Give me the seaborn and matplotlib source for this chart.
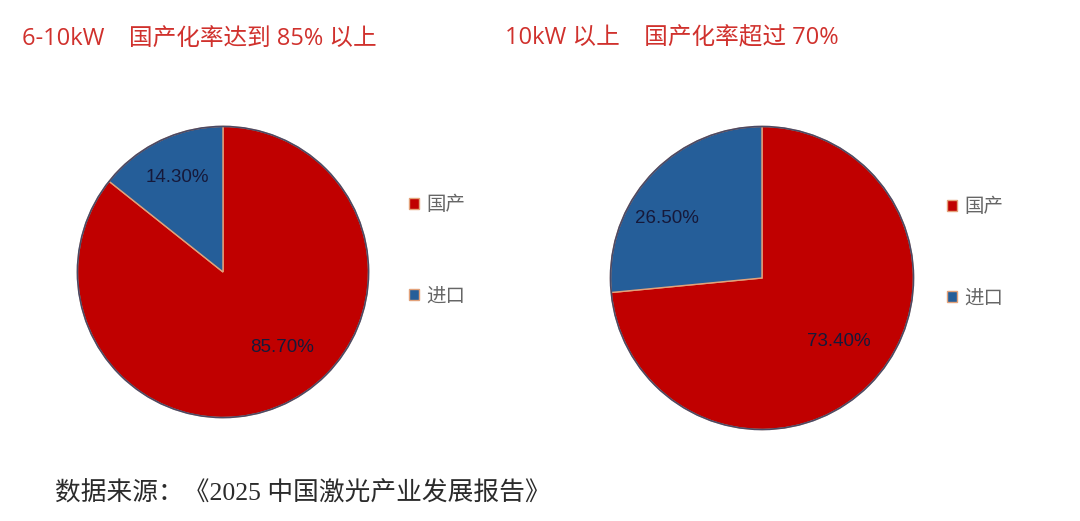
import matplotlib
matplotlib.use("Agg")
import matplotlib.pyplot as plt
import seaborn as sns
import numpy as np
from matplotlib.patches import Circle

sns.set_theme(style="white")
plt.rcParams['font.family'] = ['Noto Sans CJK SC', 'DejaVu Sans']

categories = ["国产", "进口"]
values_a = [85.70, 14.30]
values_b = [73.40, 26.50]
title_a = "6-10kW    国产化率达到 85% 以上"
title_b = "10kW 以上    国产化率超过 70%"
source = "数据来源：《2025 中国激光产业发展报告》"

colors = ["#C00000", "#255E99"]
edge = "#E3A27A"

fig = plt.figure(figsize=(10.8, 5.21), dpi=100)
fig.patch.set_facecolor("white")

def draw(rect, vals, label_shift, legend_pos):
    ax = fig.add_axes(rect)
    it = iter(vals)
    wedges, _, autotexts = ax.pie(
        vals, colors=colors, startangle=90, counterclock=False,
        autopct=lambda p: f"{next(it):.2f}%", pctdistance=0.7,
        wedgeprops=dict(edgecolor=edge, linewidth=1.0),
        textprops=dict(color="#16193A", fontsize=13.5, family=['Liberation Sans', 'DejaVu Sans']),
        radius=1.0)
    for t, (dang, dist) in zip(autotexts, label_shift):
        x, y = t.get_position()
        ang = np.arctan2(y, x) + np.deg2rad(dang)
        t.set_position((dist * np.cos(ang), dist * np.sin(ang)))
    ax.add_patch(Circle((0, 0), 1.0, fill=False, edgecolor="#4A4A66", linewidth=1.2))
    ax.set_xlim(-1.01, 1.01)
    ax.set_ylim(-1.01, 1.01)
    ax.set_aspect("equal")
    ax.axis("off")
    ax.legend(wedges, categories, loc="upper left", bbox_to_anchor=legend_pos,
              bbox_transform=fig.transFigure, frameon=False, fontsize=14,
              labelspacing=3.6, handlelength=0.55, handleheight=0.55,
              handletextpad=0.35, labelcolor="#666666")
    return ax

draw([76/1080, 102/521, 294/1080, 294/521], values_a, [(12, 0.66), (0, 0.72)], (391/1080, 1 - 177/521))
draw([609/1080, 90/521, 306/1080, 306/521], values_b, [(2.5, 0.66), (10, 0.74)], (929/1080, 1 - 179/521))

title_font = ['Open Sans', 'Noto Sans CJK SC']
fig.text(22/1080, 1 - 40/521, title_a, color="#D0312D", fontsize=17, va="center", ha="left", family=title_font)
fig.text(505/1080, 1 - 38/521, title_b, color="#D0312D", fontsize=17, va="center", ha="left", family=title_font)
fig.text(55/1080, 1 - 493/521, source, color="#2B2B2B", fontsize=18.5, va="center", ha="left",
         family=['Liberation Serif', 'Noto Sans CJK SC'])

fig.savefig("out.png", dpi=100, facecolor="white")
